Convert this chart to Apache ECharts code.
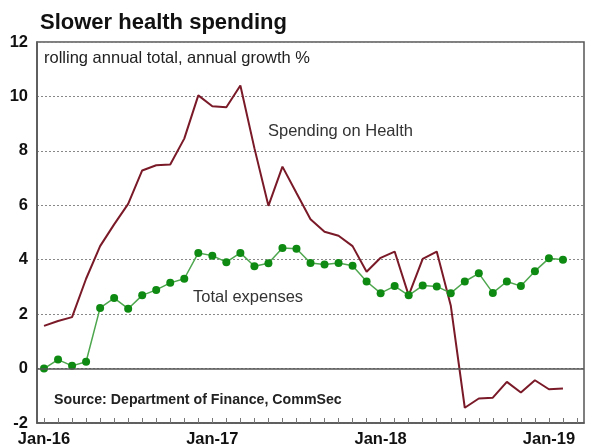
<!DOCTYPE html>
<html><head><meta charset="utf-8">
<script src="https://cdn.jsdelivr.net/npm/echarts@6/dist/echarts.min.js"></script>
<style>html,body{margin:0;padding:0;background:#fff}#c{width:593px;height:448px}</style>
</head><body><div id="c"></div>
<script>
const months = ['Jan-16','Feb-16','Mar-16','Apr-16','May-16','Jun-16','Jul-16','Aug-16','Sep-16','Oct-16','Nov-16','Dec-16',
  'Jan-17','Feb-17','Mar-17','Apr-17','May-17','Jun-17','Jul-17','Aug-17','Sep-17','Oct-17','Nov-17','Dec-17',
  'Jan-18','Feb-18','Mar-18','Apr-18','May-18','Jun-18','Jul-18','Aug-18','Sep-18','Oct-18','Nov-18','Dec-18',
  'Jan-19','Feb-19','Mar-19'];
const healthSpending = [1.57,1.75,1.89,3.3,4.5,5.3,6.05,7.28,7.47,7.5,8.45,10.04,
  9.64,9.6,10.4,8.1,5.98,7.42,6.45,5.49,5.03,4.88,4.5,3.56,
  4.07,4.3,2.69,4.03,4.3,2.32,-1.44,-1.1,-1.07,-0.49,-0.88,-0.43,
  -0.76,-0.73];
const totalExpenses = [0.0,0.33,0.1,0.25,2.23,2.59,2.2,2.69,2.89,3.15,3.3,4.25,
  4.15,3.91,4.25,3.76,3.87,4.43,4.4,3.88,3.82,3.88,3.78,3.2,
  2.77,3.03,2.69,3.05,3.02,2.77,3.2,3.5,2.78,3.2,3.03,3.58,
  4.05,4.0];
const yMin = -2, yMax = 12, yStep = 2;
const titleText = 'Slower health spending';
const subtitleText = 'rolling annual total, annual growth %';
const healthName = 'Spending on Health';
const totalName = 'Total expenses';
const sourceText = 'Source: Department of Finance, CommSec';

const chart = echarts.init(document.getElementById('c'));
const F = 'Liberation Sans, Arial, sans-serif';
chart.setOption({
  animation: false,
  backgroundColor: '#fff',
  grid: {left: 37, right: 9, top: 42, bottom: 25, show: true, borderColor: '#555', borderWidth: 1.5, backgroundColor: 'transparent'},
  xAxis: {
    type: 'category', data: months, boundaryGap: true,
    axisLine: {show: true, onZero: false, lineStyle: {color: '#555', width: 1.5}},
    axisTick: {show: true, inside: true, length: 5, interval: 0, alignWithLabel: true, lineStyle: {color: '#777'}},
    axisLabel: {interval: (i, v) => v.startsWith('Jan'), color: '#111', fontFamily: F, fontWeight: 'bold', fontSize: 16.5, margin: 8},
    splitLine: {show: false}
  },
  yAxis: {
    type: 'value', min: yMin, max: yMax, interval: yStep,
    axisLine: {show: true, lineStyle: {color: '#555', width: 1.5}},
    axisTick: {show: false},
    axisLabel: {color: '#111', fontFamily: F, fontWeight: 'bold', fontSize: 16.5, margin: 9},
    splitLine: {show: true, lineStyle: {color: '#888', type: [2, 2], width: 1}}
  },
  graphic: [
    {type: 'text', x: 40, y: 23, style: {text: titleText, fontFamily: F, fontWeight: 'bold', fontSize: 22, fill: '#111', verticalAlign: 'middle'}},
    {type: 'text', x: 44, y: 58, style: {text: subtitleText, fontFamily: F, fontSize: 16.5, fill: '#222', verticalAlign: 'middle'}},
    {type: 'text', x: 268, y: 131, style: {text: healthName, fontFamily: F, fontSize: 16.5, fill: '#333', verticalAlign: 'middle'}},
    {type: 'text', x: 193, y: 297, style: {text: totalName, fontFamily: F, fontSize: 16.5, fill: '#333', verticalAlign: 'middle'}},
    {type: 'text', x: 54, y: 400, style: {text: sourceText, fontFamily: F, fontWeight: 'bold', fontSize: 14.2, fill: '#222', verticalAlign: 'middle'}}
  ],
  series: [
    {
      name: healthName, type: 'line', data: healthSpending, showSymbol: false, symbol: 'none',
      lineStyle: {color: '#7a1a28', width: 2}, z: 3,
      markLine: {silent: true, symbol: 'none', label: {show: false}, data: [{yAxis: 0}],
        lineStyle: {color: '#555', width: 1.5, type: 'solid'}}
    },
    {
      name: totalName, type: 'line', data: totalExpenses, symbol: 'circle', symbolSize: 8,
      lineStyle: {color: '#4ea64e', width: 1.5}, itemStyle: {color: '#0e8a12'}, z: 4
    }
  ]
});
</script></body></html>
